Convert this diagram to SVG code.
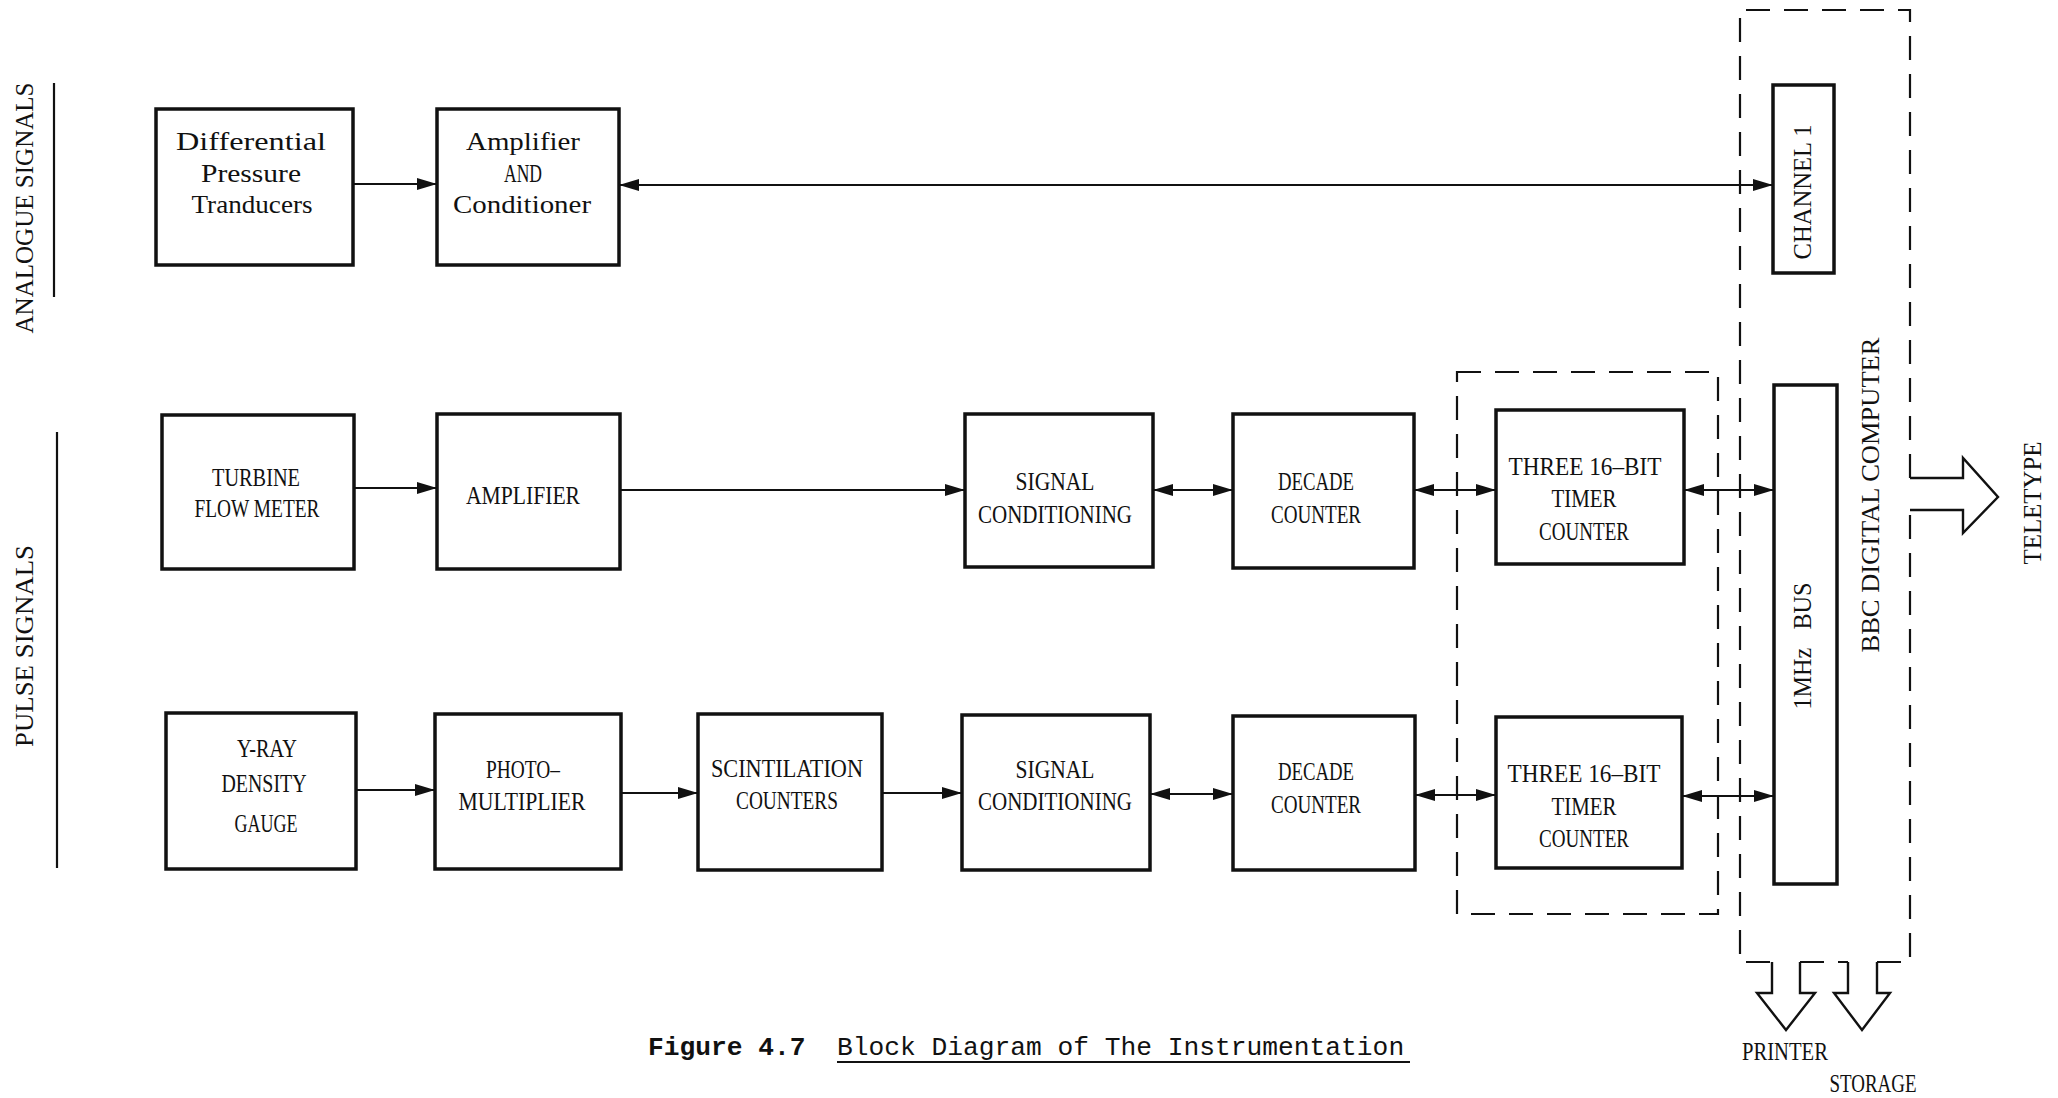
<svg xmlns="http://www.w3.org/2000/svg" width="2058" height="1098" viewBox="0 0 2058 1098">
<style>
.box{fill:#fff;stroke:#111;stroke-width:3.5}
.ln{fill:none;stroke:#111;stroke-width:2.2}
.dash{fill:none;stroke:#111;stroke-width:2.2;stroke-dasharray:24 14}
.hol{fill:none;stroke:#111;stroke-width:2.4;stroke-linejoin:miter}
.t{font-family:"Liberation Serif",serif;font-size:25px;fill:#111;text-anchor:middle}
.r{font-family:"Liberation Serif",serif;font-size:26px;fill:#111;text-anchor:middle}
.cap{font-family:"Liberation Mono",monospace;font-size:26.25px;fill:#111;white-space:pre}
</style>
<defs>
<marker id="ah" markerUnits="userSpaceOnUse" markerWidth="20" markerHeight="12" refX="20" refY="6" orient="auto-start-reverse">
<path d="M0,0 L20,6 L0,12 z" fill="#111"/>
</marker>
</defs>
<rect width="2058" height="1098" fill="#fff"/>

<g id="side-labels">
<line class="ln" x1="54" y1="83" x2="54" y2="297"/>
<text class="r" transform="translate(33,208) rotate(-90)" textLength="251" lengthAdjust="spacingAndGlyphs">ANALOGUE SIGNALS</text>
<line class="ln" x1="57" y1="432" x2="57" y2="868"/>
<text class="r" transform="translate(33,646) rotate(-90)" textLength="202" lengthAdjust="spacingAndGlyphs">PULSE SIGNALS</text>
</g>

<g id="computer">
<path class="dash" d="M1910,478 V10 H1740 V962 H1772 M1800,962 H1848 M1877,962 H1910 V510"/>
<path id="teletype-arrow" class="hol" d="M1910,478 H1963 V458 L1998,497 L1963,533 V510 H1910"/>
<path id="printer-arrow" class="hol" d="M1772,962 V993 H1757 L1786,1030 L1815,993 H1800 V962"/>
<path id="storage-arrow" class="hol" d="M1848,962 V993 H1834 L1862,1030 L1890,993 H1877 V962"/>
<text class="r" transform="translate(1879,495) rotate(-90)" textLength="315" lengthAdjust="spacingAndGlyphs">BBC DIGITAL COMPUTER</text>
<text class="r" transform="translate(2041,503) rotate(-90)" textLength="123" lengthAdjust="spacingAndGlyphs">TELETYPE</text>
<text class="t" x="1785" y="1060" textLength="86" lengthAdjust="spacingAndGlyphs">PRINTER</text>
<text class="t" x="1873" y="1092" textLength="87" lengthAdjust="spacingAndGlyphs">STORAGE</text>
</g>

<g id="timer-group">
<rect class="dash" x="1457" y="372" width="261" height="542"/>
</g>

<g id="connectors">
<path class="ln" d="M353,184 H437" marker-end="url(#ah)"/>
<path class="ln" d="M619,185 H1773" marker-start="url(#ah)" marker-end="url(#ah)"/>
<path class="ln" d="M354,488 H437" marker-end="url(#ah)"/>
<path class="ln" d="M620,490 H965" marker-end="url(#ah)"/>
<path class="ln" d="M1153,490 H1233" marker-start="url(#ah)" marker-end="url(#ah)"/>
<path class="ln" d="M1414,490 H1496" marker-start="url(#ah)" marker-end="url(#ah)"/>
<path class="ln" d="M1684,490 H1774" marker-start="url(#ah)" marker-end="url(#ah)"/>
<path class="ln" d="M356,790 H435" marker-end="url(#ah)"/>
<path class="ln" d="M621,793 H698" marker-end="url(#ah)"/>
<path class="ln" d="M882,793 H962" marker-end="url(#ah)"/>
<path class="ln" d="M1150,794 H1233" marker-start="url(#ah)" marker-end="url(#ah)"/>
<path class="ln" d="M1415,795 H1496" marker-start="url(#ah)" marker-end="url(#ah)"/>
<path class="ln" d="M1682,796 H1774" marker-start="url(#ah)" marker-end="url(#ah)"/>
</g>

<g id="diff-pressure">
<rect class="box" x="156" y="109" width="197" height="156"/>
<text class="t" x="251" y="150" textLength="150" lengthAdjust="spacingAndGlyphs">Differential</text>
<text class="t" x="251" y="182" textLength="100" lengthAdjust="spacingAndGlyphs">Pressure</text>
<text class="t" x="252" y="213" textLength="121" lengthAdjust="spacingAndGlyphs">Tranducers</text>
</g>
<g id="amp-cond">
<rect class="box" x="437" y="109" width="182" height="156"/>
<text class="t" x="523" y="150" textLength="114" lengthAdjust="spacingAndGlyphs">Amplifier</text>
<text class="t" x="523" y="182" textLength="38" lengthAdjust="spacingAndGlyphs">AND</text>
<text class="t" x="522" y="213" textLength="138" lengthAdjust="spacingAndGlyphs">Conditioner</text>
</g>
<g id="channel1">
<rect class="box" x="1773" y="85" width="61" height="188"/>
<text class="r" transform="translate(1811,192) rotate(-90)" textLength="135" lengthAdjust="spacingAndGlyphs">CHANNEL 1</text>
</g>

<g id="turbine">
<rect class="box" x="162" y="415" width="192" height="154"/>
<text class="t" x="256" y="486" textLength="88" lengthAdjust="spacingAndGlyphs">TURBINE</text>
<text class="t" x="257" y="517" textLength="125" lengthAdjust="spacingAndGlyphs">FLOW METER</text>
</g>
<g id="amplifier">
<rect class="box" x="437" y="414" width="183" height="155"/>
<text class="t" x="523" y="504" textLength="114" lengthAdjust="spacingAndGlyphs">AMPLIFIER</text>
</g>
<g id="signal-cond-1">
<rect class="box" x="965" y="414" width="188" height="153"/>
<text class="t" x="1055" y="490" textLength="79" lengthAdjust="spacingAndGlyphs">SIGNAL</text>
<text class="t" x="1055" y="523" textLength="154" lengthAdjust="spacingAndGlyphs">CONDITIONING</text>
</g>
<g id="decade-1">
<rect class="box" x="1233" y="414" width="181" height="154"/>
<text class="t" x="1316" y="490" textLength="76" lengthAdjust="spacingAndGlyphs">DECADE</text>
<text class="t" x="1316" y="523" textLength="90" lengthAdjust="spacingAndGlyphs">COUNTER</text>
</g>
<g id="timer-1">
<rect class="box" x="1496" y="410" width="188" height="154"/>
<text class="t" x="1585" y="475" textLength="153" lengthAdjust="spacingAndGlyphs">THREE 16–BIT</text>
<text class="t" x="1584" y="507" textLength="65" lengthAdjust="spacingAndGlyphs">TIMER</text>
<text class="t" x="1584" y="540" textLength="90" lengthAdjust="spacingAndGlyphs">COUNTER</text>
</g>
<g id="bus">
<rect class="box" x="1774" y="385" width="63" height="499"/>
<text class="r" transform="translate(1811,646) rotate(-90)" textLength="127" lengthAdjust="spacingAndGlyphs" xml:space="preserve" style="white-space:pre">1MHz   BUS</text>
</g>

<g id="gauge">
<rect class="box" x="166" y="713" width="190" height="156"/>
<text class="t" x="267" y="757" textLength="60" lengthAdjust="spacingAndGlyphs">Y-RAY</text>
<text class="t" x="264" y="792" textLength="85" lengthAdjust="spacingAndGlyphs">DENSITY</text>
<text class="t" x="266" y="832" textLength="63" lengthAdjust="spacingAndGlyphs">GAUGE</text>
</g>
<g id="photomultiplier">
<rect class="box" x="435" y="714" width="186" height="155"/>
<text class="t" x="523" y="778" textLength="74" lengthAdjust="spacingAndGlyphs">PHOTO–</text>
<text class="t" x="522" y="810" textLength="127" lengthAdjust="spacingAndGlyphs">MULTIPLIER</text>
</g>
<g id="scintillation">
<rect class="box" x="698" y="714" width="184" height="156"/>
<text class="t" x="787" y="777" textLength="152" lengthAdjust="spacingAndGlyphs">SCINTILATION</text>
<text class="t" x="787" y="809" textLength="102" lengthAdjust="spacingAndGlyphs">COUNTERS</text>
</g>
<g id="signal-cond-2">
<rect class="box" x="962" y="715" width="188" height="155"/>
<text class="t" x="1055" y="778" textLength="79" lengthAdjust="spacingAndGlyphs">SIGNAL</text>
<text class="t" x="1055" y="810" textLength="154" lengthAdjust="spacingAndGlyphs">CONDITIONING</text>
</g>
<g id="decade-2">
<rect class="box" x="1233" y="716" width="182" height="154"/>
<text class="t" x="1316" y="780" textLength="76" lengthAdjust="spacingAndGlyphs">DECADE</text>
<text class="t" x="1316" y="813" textLength="90" lengthAdjust="spacingAndGlyphs">COUNTER</text>
</g>
<g id="timer-2">
<rect class="box" x="1496" y="717" width="186" height="151"/>
<text class="t" x="1584" y="782" textLength="153" lengthAdjust="spacingAndGlyphs">THREE 16–BIT</text>
<text class="t" x="1584" y="815" textLength="65" lengthAdjust="spacingAndGlyphs">TIMER</text>
<text class="t" x="1584" y="847" textLength="90" lengthAdjust="spacingAndGlyphs">COUNTER</text>
</g>

<g id="caption">
<text class="cap" x="648" y="1055" xml:space="preserve"><tspan font-weight="bold">Figure 4.7</tspan>  Block Diagram of The Instrumentation</text>
<line class="ln" x1="837" y1="1062" x2="1410" y2="1062"/>
</g>
</svg>
